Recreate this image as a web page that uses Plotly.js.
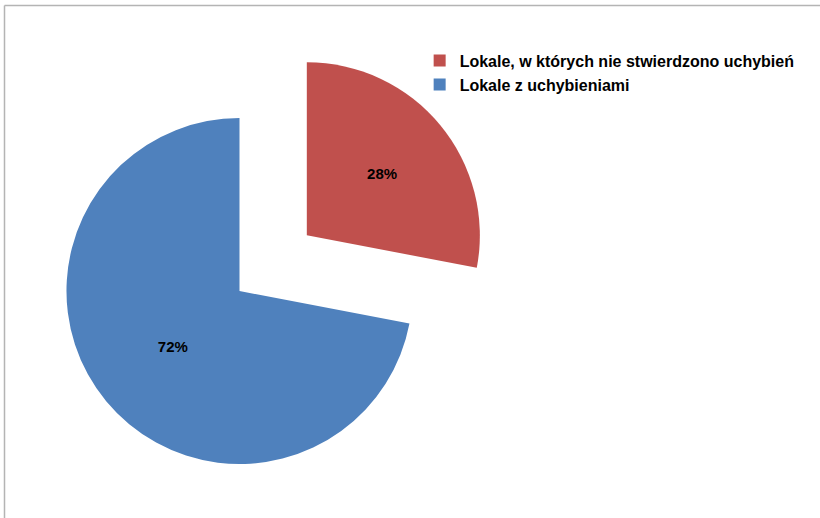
<!DOCTYPE html>
<html>
<head>
<meta charset="utf-8">
<script src="https://cdn.plot.ly/plotly-3.0.1.min.js"></script>
<style>
  html, body { margin: 0; padding: 0; background: #ffffff; overflow: hidden; width: 820px; height: 518px; }
  #wrap { position: relative; width: 820px; height: 518px; overflow: hidden; background: #ffffff; }
  #chart { position: absolute; left: -30px; top: 0; width: 850px; height: 560px; }
</style>
</head>
<body>
<div id="wrap"><div id="chart"></div></div>
<script>
// Data
const categories = ["Lokale, w których nie stwierdzono uchybień", "Lokale z uchybieniami"];
const shares = [28, 72];
const sliceColors = ["#C0504D", "#4F81BD"];
const pulls = [0.505, 0];

const trace = {
  type: "pie",
  labels: categories,
  values: shares,
  sort: false,
  direction: "clockwise",
  rotation: 0,
  pull: pulls,
  marker: { colors: sliceColors, line: { width: 0 } },
  textinfo: "percent",
  texttemplate: "%{percent:.0%}",
  textposition: "inside",
  insidetextorientation: "horizontal",
  textfont: { family: "Liberation Sans, Arial, sans-serif", size: 15, color: "#000000", weight: "bold" },
  hoverinfo: "none",
  domain: { x: [0.010706, 0.623412], y: [0.015357, 0.945357] }
};

const layout = {
  width: 850,
  height: 560,
  margin: { l: 0, r: 0, t: 0, b: 0 },
  paper_bgcolor: "#ffffff",
  plot_bgcolor: "#ffffff",
  showlegend: true,
  legend: {
    x: 0.529, y: 0.922, xanchor: "left", yanchor: "top",
    font: { family: "Liberation Sans, Arial, sans-serif", size: 16, color: "#000000", weight: "bold" },
    bgcolor: "rgba(0,0,0,0)",
    traceorder: "normal",
    itemclick: false, itemdoubleclick: false,
    tracegroupgap: 0
  },
  shapes: [
    { type: "line", xref: "paper", yref: "paper", x0: 0.04059, x1: 0.04059, y0: 0, y1: 0.99018, line: { color: "#b4b4b4", width: 1.5 } },
    { type: "line", xref: "paper", yref: "paper", x0: 0.04059, x1: 1, y0: 0.99018, y1: 0.99018, line: { color: "#b4b4b4", width: 1.5 } }
  ]
};

Plotly.newPlot("chart", [trace], layout, { displayModeBar: false, staticPlot: true });
</script>
</body>
</html>
